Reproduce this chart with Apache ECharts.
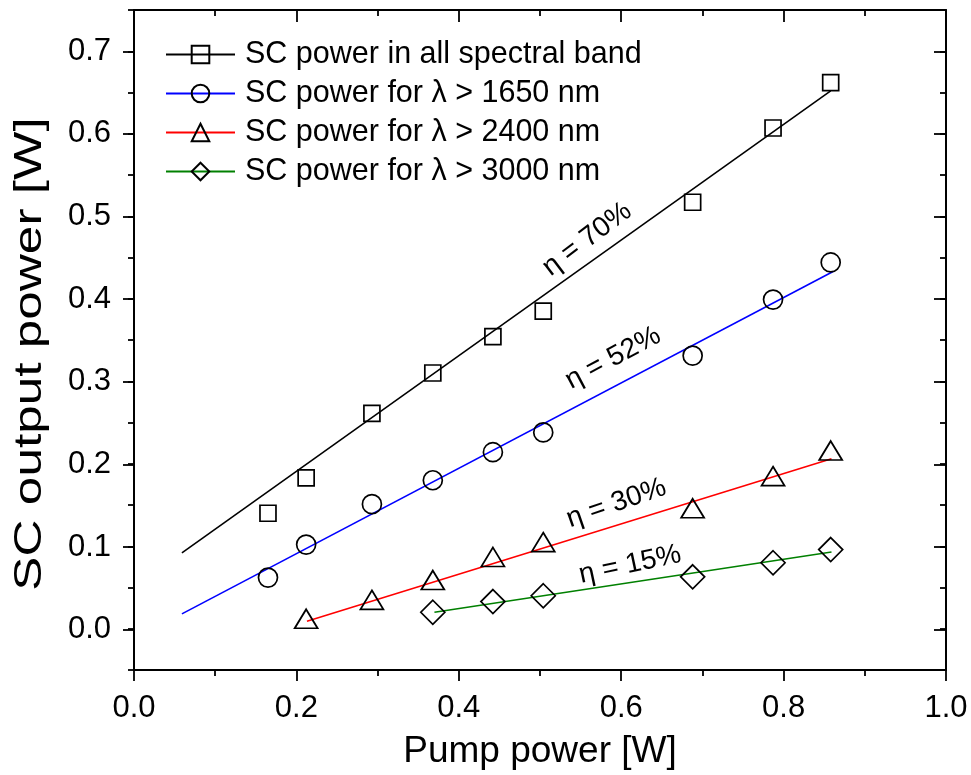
<!DOCTYPE html>
<html>
<head>
<meta charset="utf-8">
<script src="https://cdn.jsdelivr.net/npm/echarts@6/dist/echarts.min.js"></script>
<style>
  html, body { margin: 0; padding: 0; background: #fff; }
  #chart { width: 971px; height: 775px; }
</style>
</head>
<body>
<div id="chart"></div>
<script>
// Supercontinuum output power versus pump power, with linear fits.
const pumpPower      = [0.165, 0.212, 0.293, 0.368, 0.442, 0.504, 0.688, 0.787, 0.858];
const powerAllBand   = [0.140, 0.183, 0.261, 0.310, 0.354, 0.385, 0.517, 0.607, 0.662];
const power1650      = [0.062, 0.102, 0.151, 0.180, 0.214, 0.238, 0.331, 0.399, 0.444];
const power2400      = [null, 0.012, 0.035, 0.059, 0.087, 0.105, 0.146, 0.185, 0.216];
const power3000      = [null, null, null, 0.020, 0.033, 0.040, 0.063, 0.080, 0.096];

// Linear fit end points [pump, output]
const fitAllBand = [[0.059, 0.092], [0.858, 0.652]];
const fit1650    = [[0.059, 0.018], [0.861, 0.433]];
const fit2400    = [[0.213, 0.009], [0.859, 0.206]];
const fit3000    = [[0.370, 0.020], [0.859, 0.093]];

const seriesNames = [
  'SC power in all spectral band',
  'SC power for λ > 1650 nm',
  'SC power for λ > 2400 nm',
  'SC power for λ > 3000 nm'
];

// Slope labels
const etaText  = ['η = 70%', 'η = 52%', 'η = 30%', 'η = 15%'];
const etaX     = [0.558, 0.590, 0.594, 0.611];
const etaY     = [0.472, 0.328, 0.152, 0.0775];
const etaAngle = [37, 28, 19, 12];

const xTicks = { min: 0, max: 1, interval: 0.2 };
const yTicks = { min: 0, max: 0.7, interval: 0.1 };
const xTitle = 'Pump power [W]';
const yTitle = 'SC output power [W]';

// ---- styling ----
const FONT = "'Liberation Sans', Arial, sans-serif";
const lineColors = ['#000000', '#0000ff', '#ff0000', '#008000'];
const markerShapes = ['rect', 'circle', 'triangle', 'diamond'];
const markerSizes = [16, 19, [23, 19], 24];
const AXIS_W = 2;
const TICK_FONT = 31;

const gridLeft = 134, gridRight = 25, gridTop = 10, gridBottom = 104;
const plotH = 775 - gridTop - gridBottom;
const yFullMin = -0.05, yFullMax = 0.75;
// second grid spans exactly the labelled range 0 .. 0.7
const padTop = (yFullMax - yTicks.max) / (yFullMax - yFullMin) * plotH;
const padBottom = (yTicks.min - yFullMin) / (yFullMax - yFullMin) * plotH;

const pointSets = [powerAllBand, power1650, power2400, power3000];
const fits = [fitAllBand, fit1650, fit2400, fit3000];

function pairs(xs, ys) {
  const out = [];
  xs.forEach((x, i) => { if (ys[i] != null) out.push([x, ys[i]]); });
  return out;
}

const series = [];
fits.forEach((f, i) => {
  series.push({
    type: 'line', name: 'fit ' + i, data: f, xAxisIndex: 0, yAxisIndex: 0,
    symbol: 'none', silent: true, z: 2,
    lineStyle: { color: lineColors[i], width: 1.6 }
  });
});
pointSets.forEach((ys, i) => {
  series.push({
    type: 'line', name: seriesNames[i], data: pairs(pumpPower, ys),
    xAxisIndex: 0, yAxisIndex: 0, z: 3,
    symbol: markerShapes[i], symbolSize: markerSizes[i], showSymbol: true,
    lineStyle: { width: 0, opacity: 0 },
    itemStyle: { color: 'transparent', borderColor: '#000', borderWidth: 1.7 }
  });
});
// slope annotations placed in data coordinates
series.push({
  type: 'custom', name: 'eta', xAxisIndex: 0, yAxisIndex: 0, z: 4, silent: true,
  data: etaText.map((t, i) => [etaX[i], etaY[i], etaAngle[i], i]),
  renderItem: (params, api) => {
    const p = api.coord([api.value(0), api.value(1)]);
    return {
      type: 'text', x: p[0], y: p[1],
      rotation: api.value(2) * Math.PI / 180,
      style: {
        text: etaText[api.value(3)], fill: '#000', font: '28px ' + FONT,
        textAlign: 'center', textVerticalAlign: 'middle'
      }
    };
  }
});

const chart = echarts.init(document.getElementById('chart'), null, { renderer: 'canvas' });
chart.setOption({
  animation: false,
  backgroundColor: '#fff',
  grid: [
    { left: gridLeft, right: gridRight, top: gridTop, bottom: gridBottom },
    { left: gridLeft, right: gridRight, top: gridTop + padTop, bottom: gridBottom + padBottom }
  ],
  legend: {
    orient: 'vertical', left: 165, top: 39, padding: 0,
    itemWidth: 69, itemHeight: 22, itemGap: 8,
    selectedMode: false,
    textStyle: { fontSize: 30.5, fontFamily: FONT, color: '#000', lineHeight: 30, padding: [0, 0, 0, 5] },
    data: seriesNames.map((n, i) => ({
      name: n,
      lineStyle: { color: lineColors[i], width: 2, opacity: 1 }
    }))
  },
  // rotated y title, stretched along its length
  graphic: [{
    type: 'text', x: 31, y: 354, rotation: Math.PI / 2, scaleX: 1.35, scaleY: 1,
    silent: true,
    style: {
      text: yTitle, font: '38px ' + FONT, fill: '#000',
      textAlign: 'center', textVerticalAlign: 'middle'
    }
  }],
  xAxis: [
    {
      type: 'value', gridIndex: 0, position: 'bottom',
      min: xTicks.min, max: xTicks.max, interval: xTicks.interval,
      name: xTitle, nameLocation: 'middle', nameGap: 63,
      nameTextStyle: { fontSize: 37, fontFamily: FONT, color: '#000' },
      axisLine: { show: true, onZero: false, lineStyle: { color: '#000', width: AXIS_W } },
      axisTick: { show: true, inside: false, length: 11, lineStyle: { color: '#000', width: 1.8 } },
      minorTick: { show: true, splitNumber: 2, length: 6, lineStyle: { color: '#000', width: 1.8 } },
      axisLabel: { fontSize: TICK_FONT, fontFamily: FONT, color: '#000', margin: 23,
                   formatter: v => v.toFixed(1) },
      splitLine: { show: false }
    },
    {
      type: 'value', gridIndex: 0, position: 'top',
      min: xTicks.min, max: xTicks.max, interval: xTicks.interval,
      axisLine: { show: true, onZero: false, lineStyle: { color: '#000', width: AXIS_W } },
      axisTick: { show: true, inside: true, length: 12, lineStyle: { color: '#000', width: 1.8 } },
      minorTick: { show: true, splitNumber: 2, length: 6, lineStyle: { color: '#000', width: 1.8 } },
      axisLabel: { show: false }, splitLine: { show: false }
    },
    {
      type: 'value', gridIndex: 1, show: false,
      min: xTicks.min, max: xTicks.max
    }
  ],
  yAxis: [
    {
      // full frame with minor ticks every 0.05
      type: 'value', gridIndex: 0, position: 'left',
      min: yFullMin, max: yFullMax, interval: 0.05,
      axisLine: { show: true, onZero: false, lineStyle: { color: '#000', width: AXIS_W } },
      axisTick: { show: true, inside: false, length: 6, lineStyle: { color: '#000', width: 1.8 } },
      axisLabel: { show: false }, splitLine: { show: false }
    },
    {
      type: 'value', gridIndex: 0, position: 'right',
      min: yFullMin, max: yFullMax, interval: 0.05,
      axisLine: { show: true, onZero: false, lineStyle: { color: '#000', width: AXIS_W } },
      axisTick: { show: true, inside: true, length: 6, lineStyle: { color: '#000', width: 1.8 } },
      axisLabel: { show: false }, splitLine: { show: false }
    },
    {
      // labelled major ticks every 0.1
      type: 'value', gridIndex: 1, position: 'left',
      min: yTicks.min, max: yTicks.max, interval: yTicks.interval,
      axisLine: { show: false },
      axisTick: { show: true, inside: false, length: 11, lineStyle: { color: '#000', width: 1.8 } },
      axisLabel: { fontSize: TICK_FONT, fontFamily: FONT, color: '#000', margin: 23,
                   formatter: v => v.toFixed(1) },
      splitLine: { show: false }
    },
    {
      type: 'value', gridIndex: 1, position: 'right',
      min: yTicks.min, max: yTicks.max, interval: yTicks.interval,
      axisLine: { show: false },
      axisTick: { show: true, inside: true, length: 12, lineStyle: { color: '#000', width: 1.8 } },
      axisLabel: { show: false }, splitLine: { show: false }
    }
  ],
  series: series
});
</script>
</body>
</html>
